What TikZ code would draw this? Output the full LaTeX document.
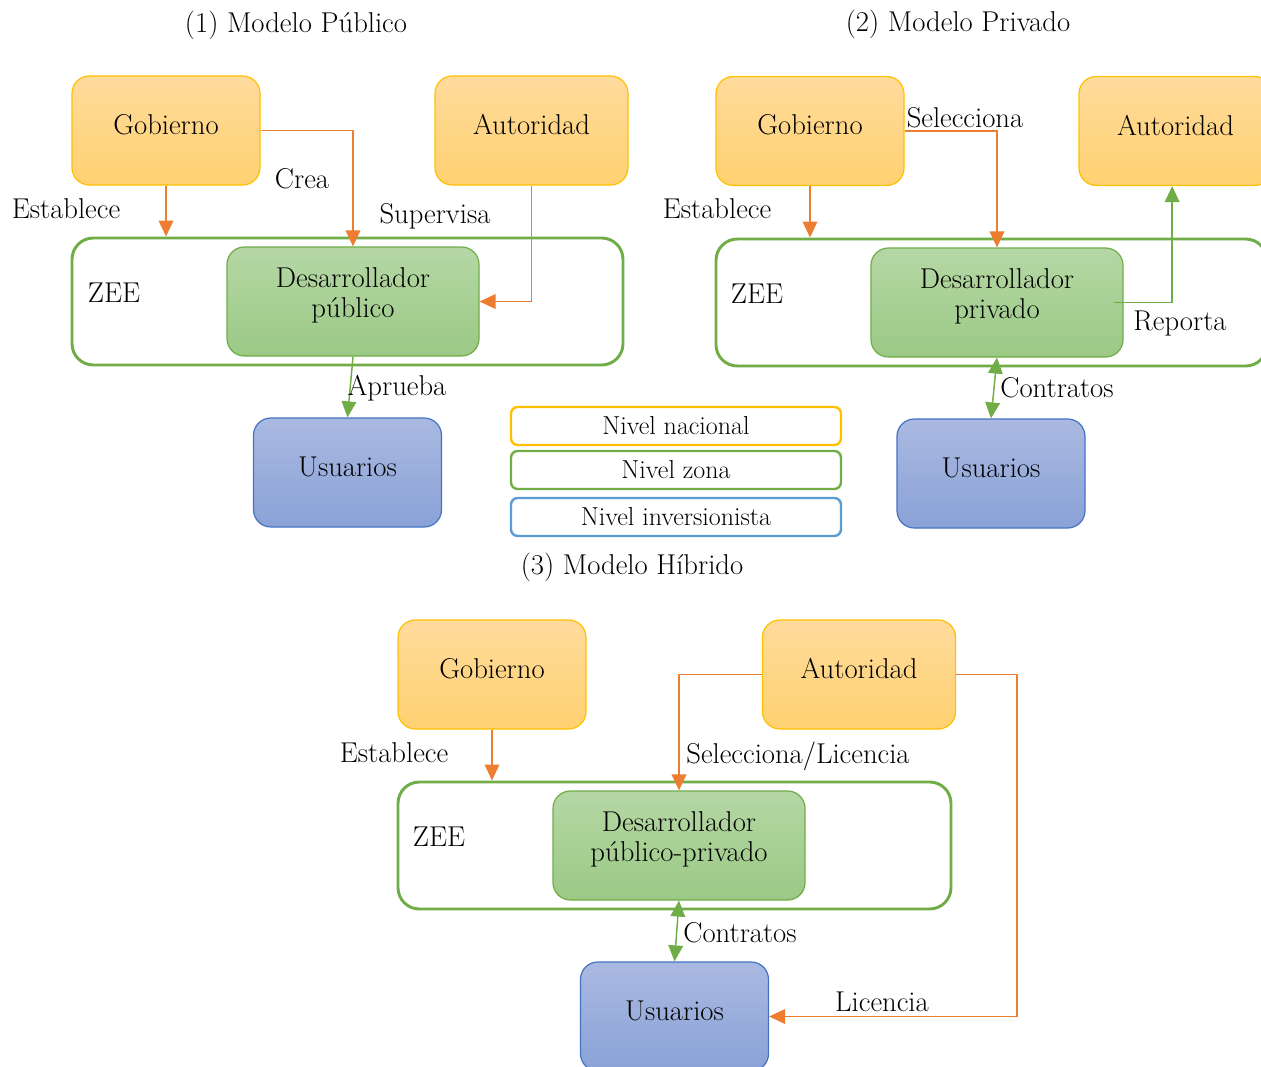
\documentclass[tikz,border=0pt]{standalone}
\usetikzlibrary{arrows.meta,calc}
\definecolor{orgline}{HTML}{FFC000}
\definecolor{orgtop}{HTML}{FFDB9C}
\definecolor{orgbot}{HTML}{FFD171}
\definecolor{grnline}{HTML}{70AD47}
\definecolor{grntop}{HTML}{B5D7A5}
\definecolor{grnbot}{HTML}{9BC985}
\definecolor{blueline}{HTML}{4472C4}
\definecolor{bluetop}{HTML}{AAB9E1}
\definecolor{bluebot}{HTML}{8AA2D7}
\definecolor{arrorange}{HTML}{ED7D31}
\definecolor{legblue}{HTML}{5B9BD5}
\begin{document}
\begin{tikzpicture}[x=0.75pt,y=-0.75pt,
  every node/.style={font=\fontsize{21.5}{22.5}\selectfont},
  box/.style={rounded corners=13pt, minimum height=81.75pt, inner sep=0pt, line width=0.9pt},
  txt/.style={label={[yshift=4.5pt,align=center]center:#1}},
  natbox/.style={box, draw=orgline, top color=orgtop, bottom color=orgbot, minimum width=141pt, txt=#1},
  autbox/.style={box, draw=orgline, top color=orgtop, bottom color=orgbot, minimum width=144.75pt, txt=#1},
  devbox/.style={box, draw=grnline, top color=grntop, bottom color=grnbot, minimum width=189pt, txt=#1},
  usrbox/.style={box, draw=blueline, top color=bluetop, bottom color=bluebot, minimum width=141pt, txt=#1},
  zeebox/.style={draw=grnline, fill=white, line width=2.2pt, rounded corners=16pt, minimum width=413.25pt, minimum height=95.25pt, inner sep=0pt},
  legbox/.style={draw=#1, fill=white, line width=1.8pt, rounded corners=5pt, minimum width=247.5pt, minimum height=28.5pt, inner sep=0pt, font=\fontsize{19.5}{20}\selectfont},
  tip/.style={Triangle[length=12pt,width=11pt]},
  oarr/.style={draw=arrorange, line width=1.1pt, -{Triangle[length=12pt,width=11pt]}},
  garr/.style={draw=grnline, line width=1.1pt, -{Triangle[length=12pt,width=11pt]}},
  gbarr/.style={draw=grnline, line width=1.1pt, {Triangle[length=12pt,width=11pt]}-{Triangle[length=12pt,width=11pt]}}
]
\useasboundingbox (0,0) rectangle (1261,1067);

% ---------- (1) Modelo Publico ----------
\node (t1) at (296,25) {(1) Modelo Público};
\node[natbox=Gobierno] (gob1) at (166,130.5) {};
\node[autbox=Autoridad] (aut1) at (531.5,130.5) {};
\node[zeebox] (zee1) at (347.5,301.5) {};
\node[devbox={Desarrollador\\público}] (dev1) at (353,301.5) {};
\node[usrbox=Usuarios] (usr1) at (347.5,472.5) {};
\node (z1) at (114,293) {ZEE};
\draw[oarr] (gob1.south) -- (gob1.south |- zee1.north);
\draw[oarr] (gob1.east) -| (dev1.north);
\draw[oarr] (aut1.south) |- (dev1.east);
\draw[garr] (dev1.south) -- (usr1.north);
\node (l1a) at (66,209) {Establece};
\node (l1b) at (302,179) {Crea};
\node (l1c) at (435,216) {Supervisa};
\node (l1d) at (397,388) {Aprueba};

% ---------- (2) Modelo Privado ----------
\node (t2) at (958,24) {(2) Modelo Privado};
\node[natbox=Gobierno] (gob2) at (810,131) {};
\node[autbox=Autoridad] (aut2) at (1175.5,131) {};
\node[zeebox] (zee2) at (991.5,302.5) {};
\node[devbox={Desarrollador\\privado}] (dev2) at (997,302.5) {};
\node[usrbox=Usuarios] (usr2) at (991,473.5) {};
\node (z2) at (757,294) {ZEE};
\draw[oarr] (gob2.south) -- (gob2.south |- zee2.north);
\draw[oarr] (gob2.east) -| (dev2.north);
\draw[garr] ([xshift=-7.5pt]dev2.east) -| ([xshift=-2.5pt]aut2.south);
\draw[gbarr] (dev2.south) -- (usr2.north);
\node (l2a) at (717,209) {Establece};
\node (l2b) at (965,118) {Selecciona};
\node (l2c) at (1180,324) {Reporta};
\node (l2d) at (1057,388) {Contratos};

% ---------- Legend ----------
\node[legbox=orgline] (leg1) at (676,426) {Nivel nacional};
\node[legbox=grnline] (leg2) at (676,470) {Nivel zona};
\node[legbox=legblue] (leg3) at (676,517) {Nivel inversionista};

% ---------- (3) Modelo Hibrido ----------
\node (t3) at (632,567) {(3) Modelo Híbrido};
\node[natbox=Gobierno] (gob3) at (492,674.5) {};
\node[autbox=Autoridad] (aut3) at (859,674.5) {};
\node[zeebox, minimum width=414.75pt] (zee3) at (674.5,845.5) {};
\node[devbox={Desarrollador\\público-privado}] (dev3) at (679,845.5) {};
\node[usrbox=Usuarios] (usr3) at (674.5,1016.5) {};
\node (z3) at (439,837) {ZEE};
\draw[oarr] (gob3.south) -- (gob3.south |- zee3.north);
\draw[oarr] (aut3.west) -| (dev3.north);
\draw[oarr] (aut3.east) -- ++(61,0) |- (usr3.east);
\draw[gbarr] (dev3.south) -- (usr3.north);
\node (l3a) at (394,753) {Establece};
\node (l3b) at (798,756) {Selecciona/Licencia};
\node (l3c) at (740,933) {Contratos};
\node (l3d) at (882,1002) {Licencia};
\end{tikzpicture}
\end{document}
